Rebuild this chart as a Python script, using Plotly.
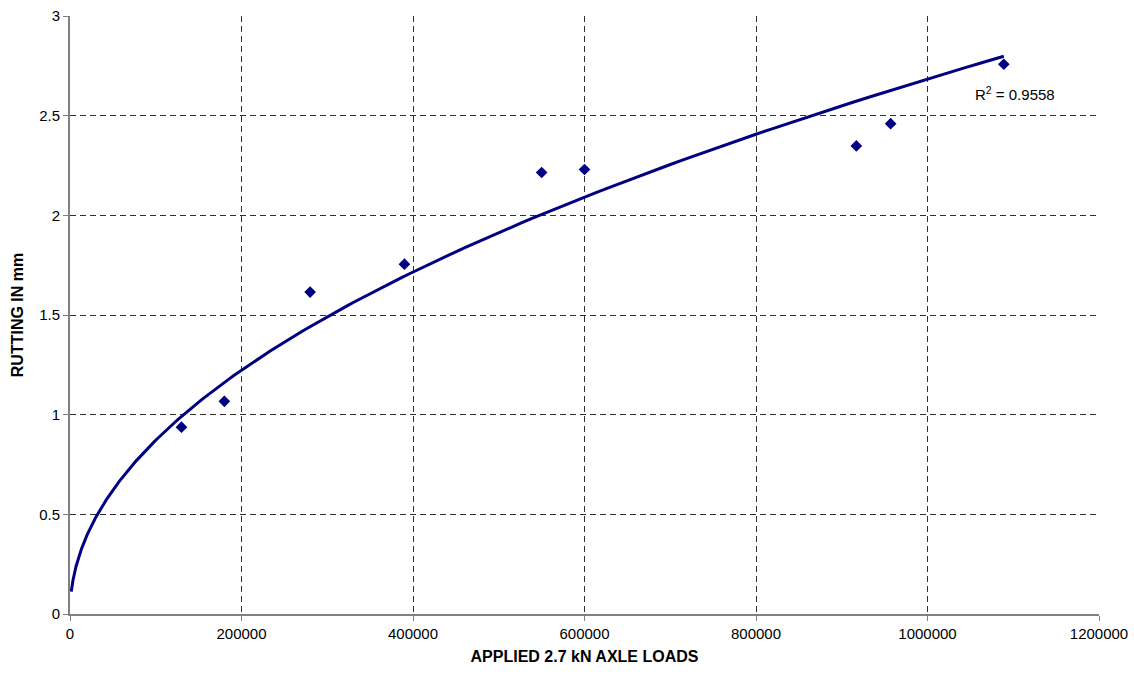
import numpy as np
import plotly.graph_objects as go

# Data
loads = [130000, 180000, 280000, 390000, 550000, 600000, 917000, 957000, 1089000]
rutting = [0.937, 1.067, 1.615, 1.755, 2.215, 2.23, 2.348, 2.46, 2.758]
r2_text = "R<sup>2</sup> = 0.9558"
x_ticks = [0, 200000, 400000, 600000, 800000, 1000000, 1200000]
y_ticks = [0, 0.5, 1, 1.5, 2, 2.5, 3]
trend_start = 1500

# Power trendline (Excel-style: least squares in log-log space)
b, ln_a = np.polyfit(np.log(loads), np.log(rutting), 1)
a = np.exp(ln_a)
tx = np.exp(np.linspace(np.log(trend_start), np.log(max(loads)), 300))
ty = a * tx ** b

L, R, T, B = 70, 1099, 15.7, 614.3
W, H = 1134, 675

navy = "#000080"
fig = go.Figure()
fig.add_trace(go.Scatter(x=tx, y=ty, mode="lines",
                         line=dict(color=navy, width=3), hoverinfo="skip"))
fig.add_trace(go.Scatter(x=loads, y=rutting, mode="markers",
                         marker=dict(symbol="diamond", color=navy, size=9)))

fig.add_annotation(x=(1015 - L) / (R - L), y=(B - 93) / (B - T),
                   xref="paper", yref="paper", text=r2_text,
                   xanchor="center", yanchor="middle",
                   showarrow=False, font=dict(size=15, color="black"))

grid = dict(showgrid=True, gridcolor="#303030", gridwidth=1, griddash="6px,4px")
fig.update_xaxes(range=[0, 1200000], tickvals=x_ticks,
                 ticktext=[str(v) for v in x_ticks],
                 showline=True, linecolor="#808080", linewidth=2,
                 ticks="outside", ticklen=5, tickcolor="#808080",
                 zeroline=False, automargin=False,
                 title=dict(text="<b>APPLIED 2.7 kN AXLE LOADS</b>",
                            font=dict(size=16, color="black"), standoff=10),
                 tickfont=dict(size=15, color="black"), **grid)
fig.update_yaxes(range=[0, 3], tickvals=y_ticks,
                 ticktext=[str(v) for v in y_ticks],
                 showline=True, linecolor="#808080", linewidth=2,
                 ticks="outside", ticklen=5, tickcolor="#808080",
                 zeroline=False, automargin=False,
                 title=dict(text="<b>RUTTING IN mm</b>",
                            font=dict(size=16, color="black"), standoff=12),
                 tickfont=dict(size=15, color="black"), **grid)
fig.update_layout(width=W, height=H,
                  margin=dict(l=L, r=W - R, t=T, b=H - B),
                  plot_bgcolor="white", paper_bgcolor="white",
                  showlegend=False, hovermode=False,
                  font=dict(family="Liberation Sans, Arial, sans-serif"))
fig.write_html("out.html",
               config={"displayModeBar": False},
               post_script="document.body.style.margin='0';"
                           "document.body.style.overflow='hidden';")
